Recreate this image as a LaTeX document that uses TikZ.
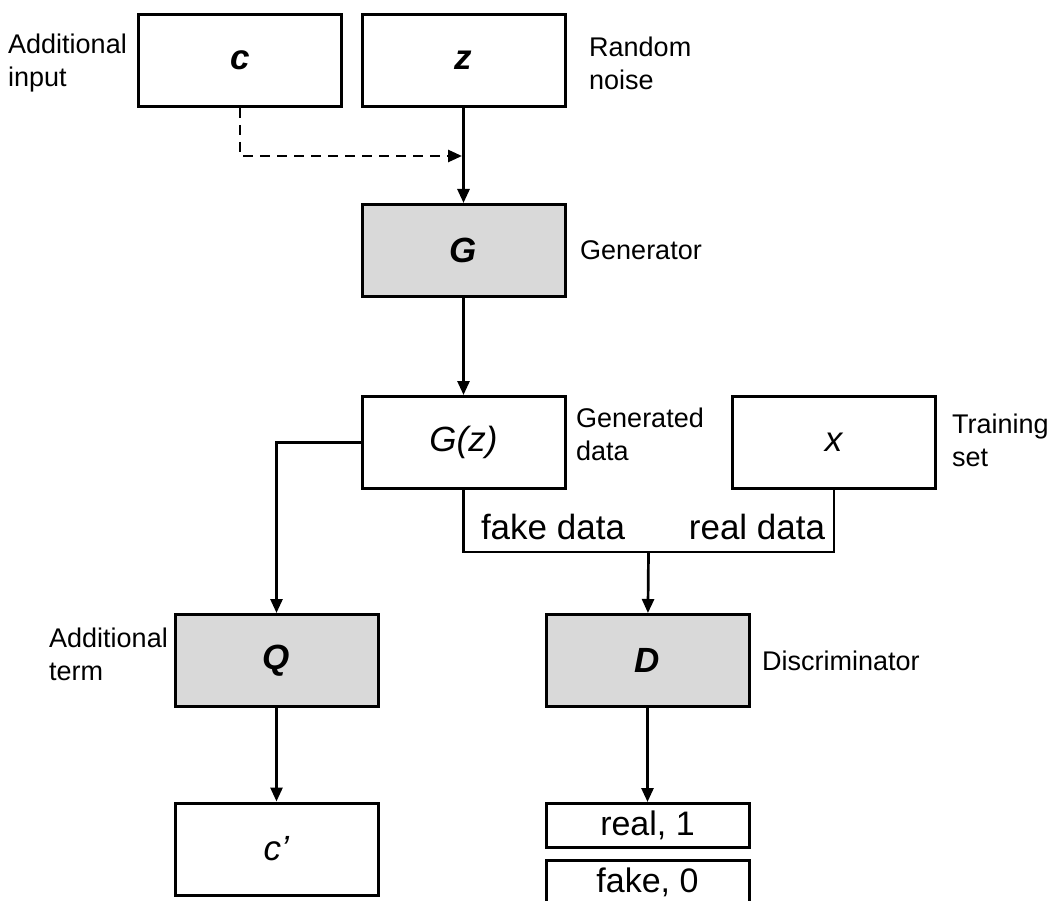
\documentclass[tikz,border=0pt]{standalone}
\usepackage{fontspec}
\setmainfont{Liberation Sans}
\usetikzlibrary{arrows.meta}
\definecolor{boxgray}{HTML}{D9D9D9}
\begin{document}
\begin{tikzpicture}[x=1pt,y=-1pt,
  box/.style={draw, line width=3pt, minimum width=203pt, minimum height=92pt, inner sep=0pt, font=\fontsize{35}{38}\selectfont},
  gbox/.style={box, fill=boxgray},
  smallbox/.style={box, minimum height=44pt, font=\fontsize{34}{36}\selectfont},
  wire/.style={line width=2.7pt},
  conn/.style={wire, -{Triangle[length=14pt,width=12pt]}},
  lbl/.style={align=left, anchor=west, inner sep=0pt, font=\fontsize{27}{33}\selectfont},
  big/.style={inner sep=0pt, font=\fontsize{35}{38}\selectfont}]
\path[use as bounding box] (0,0) rectangle (1054,901);
\clip (0,0) rectangle (1054,901);
% boxes
\node[box]  (c)  at (240,60.5)   {\textbf{\textit{c}}};
\node[box]  (z)  at (463.5,60.5) {\textbf{\textit{z}}};
\node[gbox] (G)  at (463.5,250.5) {\textbf{\textit{G}}};
\node[box]  (Gz) at (463.5,442.5) {\textit{G(z)}};
\node[box]  (x)  at (834,442.5)  {\textit{x}};
\node[gbox] (Q)  at (276.5,660.5) {\textbf{\textit{Q}}};
\node[gbox] (D)  at (647.5,660.5) {\textbf{\textit{D}}};
\node[box]  (cp) at (276.5,849)  {\textit{c’}};
\node[smallbox] (r1) at (647.5,825.5) {real, 1};
\node[smallbox] (f0) at (647.5,882) {fake, 0};
% labels
\node[lbl] (lAI) at (8,63)  {Additional\\input};
\node[lbl] (lRN) at (589,63) {Random\\noise};
\node[lbl] (lGe) at (580,250) {Generator};
\node[lbl] (lGD) at (576,434) {Generated\\data};
\node[lbl] (lTS) at (952,440) {Training\\set};
\node[lbl] (lAT) at (49,654) {Additional\\term};
\node[lbl] (lDi) at (762,661) {Discriminator};
\node[big] (tfd) at (553,527) {fake data};
\node[big] (trd) at (757,527) {real data};
% connectors
\coordinate (dj) at (462,156);
\coordinate (bl) at (648.5,552);
\draw[conn] (z) -- (G);
\draw[conn, dash pattern=on 10pt off 7pt] (c.south) |- (dj);
\draw[conn] (G) -- (Gz);
\draw[wire] (Gz.south) -- (Gz.south |- bl) -- (x.south |- bl) -- (x.south);
\draw[conn] (bl) -- (D);
\draw[conn] (Gz.west) -| (Q.north);
\draw[conn] (Q) -- (cp);
\draw[conn] (D) -- (r1);
\end{tikzpicture}
\end{document}
